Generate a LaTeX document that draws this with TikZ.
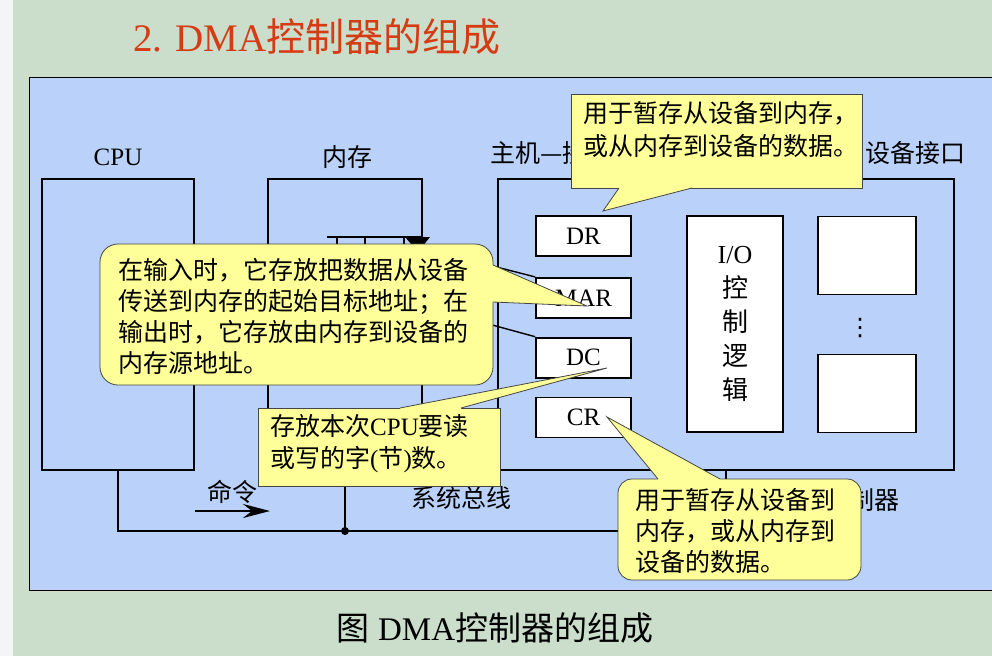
\documentclass[tikz,border=0pt]{standalone}
\usepackage{fontspec}
\setmainfont{Liberation Serif}
\newfontfamily\cjk{Noto Sans CJK SC}
\newfontfamily\symf{DejaVu Sans}
\usepackage{tikz}
\usetikzlibrary{positioning,arrows.meta,calc}
\definecolor{bggreen}{RGB}{202,222,203}
\definecolor{stripgray}{RGB}{243,245,247}
\definecolor{panelblue}{RGB}{186,210,250}
\definecolor{noteyellow}{RGB}{255,255,153}
\definecolor{noteline}{RGB}{70,70,70}
\definecolor{titlered}{RGB}{214,60,20}
\newcommand{\zh}[1]{{\cjk #1}}

\begin{document}
\begin{tikzpicture}[x=1pt, y=-1pt,
            every node/.style={inner sep=0, font=\fontsize{25}{31}\selectfont},
            unit/.style={draw, line width=1.8},
            reg/.style={unit, fill=white, minimum width=95, minimum height=40},
            slot/.style={unit, fill=white, minimum width=98, minimum height=78},
            note/.style={fill=noteyellow, draw=noteline, line width=0.8},
            notetext/.style={anchor=west, align=left}]

            \useasboundingbox (0,0) rectangle (992,656);
            \fill[bggreen] (0,0) rectangle (992,656);
            \fill[stripgray] (0,0) rectangle (13,656);
            \draw[fill=panelblue, line width=0.8] (29,77) rectangle (1000,590);

            \node[font=\fontsize{39}{45}\selectfont, text=titlered, anchor=west] (title) at (133,37) {2. DMA\zh{控制器的组成}};
            \node[font=\fontsize{33}{39}\selectfont] (caption) at (495,628) {\zh{图} DMA\zh{控制器的组成}};

            \node (cpulbl) at (118,157) {CPU};
            \node (memlbl) at (347,157) {\zh{内存}};
            \node[anchor=west] (hostlbl) at (490,153) {\zh{主机—接}};
            \node[anchor=east] (devlbl) at (966,153) {\zh{设备接口}};
            \node (buslbl) at (461,498) {\zh{系统总线}};
            \node (cmdlbl) at (232,492) {\zh{命令}};
            \node[anchor=east] (ctrllbl) at (900,500) {\zh{制器}};

            \node[unit, minimum width=152, minimum height=291] (cpu) at (118,324.5) {};
            \node[unit, minimum width=154, minimum height=291] (mem) at (345,324.5) {};
            \node[unit, minimum width=456, minimum height=291] (dma) at (726,324.5) {};

            \node[reg] (dr) at (583.5,236) {DR};
            \node[reg, below=20pt of dr] (mar) {MAR};
            \node[reg, below=18pt of mar] (dc) {DC};
            \node[reg, below=18pt of dc] (cr) {CR};

            \node[unit, fill=white, minimum width=96, minimum height=216, align=center, font=\fontsize{26}{34}\selectfont] (ioc) at (735,324) {I/O\\\zh{控}\\\zh{制}\\\zh{逻}\\\zh{辑}};
            \node[slot] (dev1) at (867,255.5) {};
            \node[slot] (dev2) at (867,393.5) {};
            \node[font=\fontsize{24}{28}\selectfont\symf] (dots) at (860,328) {⋮};

            \coordinate (junc) at (345,531);
            \draw[line width=1.8] (cpu.south) |- (junc) -| (dma.south);
            \draw[line width=1.8] (mem.south) -- (junc);
            \fill (junc) circle (4);

            \coordinate (cmdtail) at (195,511);
            \coordinate (cmdhead) at (270,511);
            \draw[line width=2.2, -{Stealth[length=27pt, width=14pt, inset=9pt]}] (cmdtail) -- (cmdhead);

            \coordinate (marin) at (430,250);
            \coordinate (dcin) at (430,308);
            \draw[line width=1.4] (mar.north west) -- (marin);
            \draw[line width=1.4] (dc.north west) -- (dcin);

            \draw[line width=1.6] (327,237) -- (422,237);
            \foreach \tx in {337,365,404}
                \draw[line width=1.6] (\tx,237) -- (\tx,252);
            \fill (405,237) -- (430,237) -- (418,252) -- cycle;

            \draw[note] (571,94) rectangle (862,188);
            \fill[noteyellow] (619,184) -- (619,188) -- (603,211) -- (692,188) -- (692,184) -- cycle;
            \draw[noteline, line width=0.8] (619,188) -- (603,211) -- (692,188);
            \node[notetext, font=\fontsize{25}{33}\selectfont] (drnote) at (583,129) {\zh{用于暂存从设备到内存，}\\\zh{或从内存到设备的数据。}};

            \draw[note, rounded corners=18] (100,244) rectangle (493,385);
            \fill[noteyellow] (489,265) -- (493,265) -- (587,306) -- (493,302) -- (489,302) -- cycle;
            \draw[noteline, line width=0.8] (493,265) -- (587,306) -- (493,302);
            \node[notetext] (marnote) at (118,316.5) {\zh{在输入时，它存放把数据从设备}\\\zh{传送到内存的起始目标地址；在}\\\zh{输出时，它存放由内存到设备的}\\\zh{内存源地址。}};

            \draw[note] (258,408) rectangle (500,486);
            \fill[noteyellow] (400,412) -- (400,408) -- (607,368) -- (461,408) -- (461,412) -- cycle;
            \draw[noteline, line width=0.8] (400,408) -- (607,368) -- (461,408);
            \node[notetext, font=\fontsize{25}{32}\selectfont] (dcnote) at (270,444) {\zh{存放本次}CPU\zh{要读}\\\zh{或写的字}(\zh{节})\zh{数。}};

            \draw[note, rounded corners=14] (618,479) rectangle (861,580);
            \fill[noteyellow] (658,483) -- (658,479) -- (607,417) -- (720,479) -- (720,483) -- cycle;
            \draw[noteline, line width=0.8] (658,479) -- (607,417) -- (720,479);
            \node[notetext] (crnote) at (635,530.5) {\zh{用于暂存从设备到}\\\zh{内存，或从内存到}\\\zh{设备的数据。}};

\end{tikzpicture}
\end{document}
